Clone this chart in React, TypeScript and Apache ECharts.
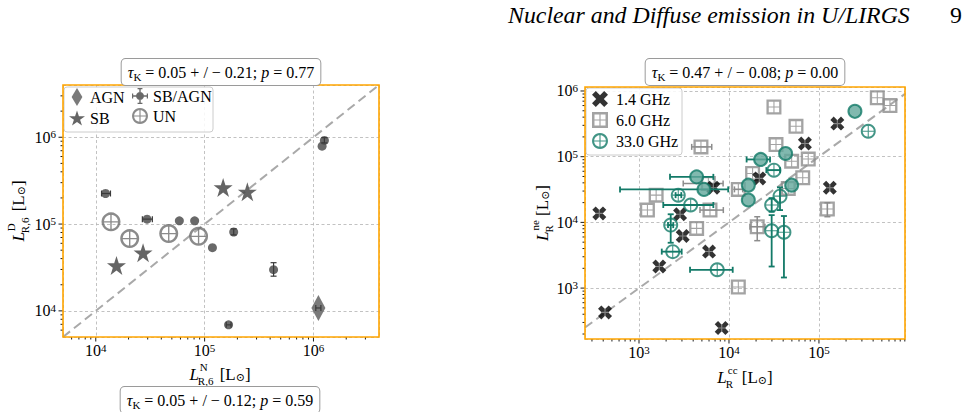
import React, { useEffect, useRef } from 'react';
import * as echarts from 'echarts';

const SERIF = "'Liberation Serif', 'DejaVu Serif', serif";
const FAMILY = 'Liberation Serif';

// ================= Left panel: L^N_R,6 (x) vs L^D_R,6 (y) =================
const leftLimits = [5000, 4e6];

const agnX = [1.11e6];
const agnY = [1.08e4];
const agnXBounds: (number[] | null)[] = [[1.05e6, 1.17e6]];
const agnYBounds: (number[] | null)[] = [null];

const sbX = [1.55e4, 2.72e4, 1.48e5, 2.47e5];
const sbY = [3.34e4, 4.68e4, 2.64e5, 2.35e5];

const sbAgnX = [1.23e4, 2.96e4, 5.86e4, 8.1e4, 1.18e5, 1.85e5, 1.66e5, 4.3e5, 1.2e6, 1.26e6];
const sbAgnY = [2.25e5, 1.14e5, 1.09e5, 1.09e5, 5.35e4, 8.1e4, 6.9e3, 2.98e4, 7.9e5, 9.2e5];
const sbAgnXBounds: (number[] | null)[] = [[1.13e4, 1.365e4], [2.68e4, 3.31e4], null, null, null, null, [1.58e5, 1.75e5], null, null, null];
const sbAgnYBounds: (number[] | null)[] = [null, null, null, null, null, [7.5e4, 8.8e4], null, [2.51e4, 3.59e4], null, [8.6e5, 9.9e5]];

const unX = [1.38e4, 2.05e4, 4.68e4, 8.8e4];
const unY = [1.06e5, 6.8e4, 7.77e4, 7.22e4];

// ================= Right panel: L^cc_R (x) vs L^ne_R (y) =================
const rightXLimits = [251, 9.04e5];
const rightYLimits = [168, 1.15e6];

const ghz14X = [362, 419, 1.68e3, 2.86e3, 3.06e3, 6.0e3, 6.7e3, 8.3e3, 2.17e4, 6.98e4, 1.32e5, 1.6e5];
const ghz14Y = [1.37e4, 427, 2.13e3, 1.33e4, 6.2e3, 3.6e3, 3.37e4, 247, 4.67e4, 1.59e5, 3.37e4, 3.19e5];

const ghz6X = [1.24e3, 1.55e3, 4.37e3, 4.88e3, 5.9e3, 6.15e3, 1.27e4, 1.27e4, 1.83e4, 2.06e4, 3.16e4, 3.33e4, 4.56e4, 4.97e4, 5.55e4, 6.6e4, 7.6e4, 1.24e5, 4.45e5, 6.15e5];
const ghz6Y = [1.54e4, 2.6e4, 8.1e3, 1.41e5, 3.92e4, 1.54e4, 1.04e3, 3.18e4, 5.56e4, 8.6e3, 5.7e5, 1.53e5, 3.29e4, 8.55e4, 2.9e5, 4.78e4, 9.2e4, 1.6e4, 7.9e5, 6.0e5];
const ghz6XBounds: (number[] | null)[] = [null, null, null, [3.85e3, 6.43e3], [3.1e3, 8.6e3], [4.76e3, 8.65e3], null, [1.15e4, 1.42e4], null, [1.71e4, 2.51e4], null, null, null, null, null, null, null, null, null, null];
const ghz6YBounds: (number[] | null)[] = [null, null, null, null, null, null, null, null, null, [5.27e3, 1.22e4], null, null, null, null, null, null, null, [1.22e4, 1.99e4], null, null];

const ghz33X = [2.25e3, 2.37e3, 2.73e3, 3.75e3, 4.37e3, 5.27e3, 7.4e3, 1.64e4, 1.64e4, 2.25e4, 2.98e4, 2.98e4, 3.16e4, 3.69e4, 4.08e4, 4.26e4, 4.97e4, 2.51e5, 3.53e5];
const ghz33Y = [9.1e3, 3.59e3, 2.6e4, 1.84e4, 4.93e4, 3.18e4, 1.9e3, 3.69e4, 2.19e4, 9.08e4, 1.84e4, 7.48e3, 6.24e4, 2.51e4, 7.1e3, 1.12e5, 3.69e4, 4.9e5, 2.44e5];
const ghz33Filled = [0, 0, 0, 0, 1, 1, 0, 1, 1, 1, 0, 0, 0, 0, 0, 1, 1, 1, 0];
const ghz33XBounds: (number[] | null)[] = [[2.1e3, 2.4e3], [1.79e3, 2.98e3], [2.55e3, 2.95e3], [1.86e3, 6.7e3], [2.21e3, 6.7e3], [615, 9.8e3], [3.69e3, 1.1e4], null, null, [1.57e4, 2.86e4], null, null, [2.6e4, 3.7e4], null, null, null, null, null, null];
const ghz33YBounds: (number[] | null)[] = [[4.9e3, 1.33e4], null, null, null, null, null, null, null, null, null, [1.45e4, 2.34e4], [2.13e3, 1.29e4], null, [1.54e4, 3.41e4], [1.45e3, 1.25e4], null, null, null, null];

// ================= Texts =================
const leftStat = ['0.05', '0.21', '0.77'];
const rightStat = ['0.47', '0.08', '0.00'];
const bottomStat = ['0.05', '0.12', '0.59'];
const headerText = 'Nuclear and Diffuse emission in U/LIRGS';
const pageNumber = '9';

// ================= Symbols =================
const P_STAR = 'path://M50,2 L61.8,37.6 L99,37.6 L68.9,59.5 L80.4,95 L50,73 L19.6,95 L31.1,59.5 L1,37.6 L38.2,37.6 Z';
const P_X = 'path://M8,28 L28,8 L50,30 L72,8 L92,28 L70,50 L92,72 L72,92 L50,70 L28,92 L8,72 L30,50 Z';
const P_PLUS = 'path://M0,42 L100,42 L100,58 L0,58 Z M42,0 L58,0 L58,100 L42,100 Z';
const P_DIAMOND = 'path://M50,0 L80,50 L50,100 L20,50 Z';
const P_DOT = 'path://M50,27 A23,23 0 1,1 49.99,27 Z M4,46 L96,46 L96,54 L4,54 Z M46,4 L54,4 L54,96 L46,96 Z M4,36 L11,36 L11,64 L4,64 Z M89,36 L96,36 L96,64 L89,64 Z M36,4 L64,4 L64,11 L36,11 Z M36,89 L64,89 L64,96 L36,96 Z';
const P_RING = 'path://M50,8 A42,42 0 1,1 49.99,8 Z M50,19 A31,31 0 1,0 50.01,19 Z M19,47 L81,47 L81,53 L19,53 Z M47,19 L53,19 L53,81 L47,81 Z';
const P_SQUARE = 'path://M8,8 L92,8 L92,92 L8,92 Z M21,21 L21,79 L79,79 L79,21 Z M21,47 L79,47 L79,53 L21,53 Z M47,21 L53,21 L53,79 L47,79 Z';

const TEAL = '#137a68';
const TEAL_FILL = '#62a89b';

const measureCtx = typeof document !== 'undefined' ? document.createElement('canvas').getContext('2d') : null;
function tw(text: string, font: string) {
  if (!measureCtx) return text.length * 8;
  measureCtx.font = font;
  return measureCtx.measureText(text).width;
}

const zip = (xs: number[], ys: number[]) => xs.map((x, i) => [x, ys[i]]);

function decadesIn(lo: number, hi: number) {
  const out: number[] = [];
  for (let e = Math.ceil(Math.log10(lo) - 1e-9); e <= Math.floor(Math.log10(hi) + 1e-9); e++) out.push(Math.pow(10, e));
  return out;
}
function minorsIn(lo: number, hi: number) {
  const out: number[] = [];
  for (let e = Math.floor(Math.log10(lo)); e <= Math.floor(Math.log10(hi)); e++)
    for (let m = 2; m <= 9; m++) {
      const v = m * Math.pow(10, e);
      if (v > lo * 1.0001 && v < hi * 0.9999) out.push(v);
    }
  return out;
}

function tickSeries(idx: number, dir: 'x' | 'y', values: number[], at: number, len: number) {
  return {
    type: 'custom',
    xAxisIndex: idx,
    yAxisIndex: idx,
    silent: true,
    clip: false,
    z: 5,
    data: values.map((v) => (dir === 'x' ? [v, at] : [at, v])),
    renderItem: (_p: any, api: any) => {
      const p = api.coord([api.value(0), api.value(1)]);
      const shape = dir === 'x'
        ? { x1: p[0], y1: p[1], x2: p[0], y2: p[1] + len }
        : { x1: p[0], y1: p[1], x2: p[0] - len, y2: p[1] };
      return { type: 'line', shape, style: { stroke: '#000', lineWidth: 0.9 } };
    },
  };
}

function errorSeries(idx: number, xs: number[], ys: number[], xb: (number[] | null)[], yb: (number[] | null)[], color: string, lw: number, z: number, cap = 3) {
  const data = xs.map((x, i) => [
    x, ys[i],
    xb[i] ? xb[i]![0] : x, xb[i] ? xb[i]![1] : x,
    yb[i] ? yb[i]![0] : ys[i], yb[i] ? yb[i]![1] : ys[i],
  ]);
  return {
    type: 'custom',
    xAxisIndex: idx,
    yAxisIndex: idx,
    silent: true,
    clip: false,
    z,
    data,
    encode: { x: 0, y: 1 },
    renderItem: (_p: any, api: any) => {
      const x = api.value(0), y = api.value(1);
      const xl = api.value(2), xh = api.value(3), yl = api.value(4), yh = api.value(5);
      const st = { stroke: color, lineWidth: lw };
      const ch: any[] = [];
      if (xl !== xh) {
        const a = api.coord([xl, y]), b = api.coord([xh, y]);
        ch.push({ type: 'line', shape: { x1: a[0], y1: a[1], x2: b[0], y2: b[1] }, style: st });
        ch.push({ type: 'line', shape: { x1: a[0], y1: a[1] - cap, x2: a[0], y2: a[1] + cap }, style: st });
        ch.push({ type: 'line', shape: { x1: b[0], y1: b[1] - cap, x2: b[0], y2: b[1] + cap }, style: st });
      }
      if (yl !== yh) {
        const a = api.coord([x, yl]), b = api.coord([x, yh]);
        ch.push({ type: 'line', shape: { x1: a[0], y1: a[1], x2: b[0], y2: b[1] }, style: st });
        ch.push({ type: 'line', shape: { x1: a[0] - cap, y1: a[1], x2: a[0] + cap, y2: a[1] }, style: st });
        ch.push({ type: 'line', shape: { x1: b[0] - cap, y1: b[1], x2: b[0] + cap, y2: b[1] }, style: st });
      }
      return { type: 'group', children: ch };
    },
  };
}

const decadeLabel = (v: number) => {
  const e = Math.log10(v);
  const r = Math.round(e);
  return Math.abs(e - r) < 1e-6 ? `{b|10}{s|${r}}` : '';
};
const labelRich = {
  b: { fontFamily: FAMILY, fontSize: 16, color: '#000' },
  s: { fontFamily: FAMILY, fontSize: 11, color: '#000', padding: [0, 0, 6, 0] },
};

function logAxis(idx: number, lim: number[], isX: boolean) {
  return {
    type: 'log',
    logBase: 10,
    gridIndex: idx,
    min: lim[0],
    max: lim[1],
    axisLine: { show: false },
    axisTick: { show: false },
    minorTick: { show: false },
    splitLine: { show: true, lineStyle: { color: '#b3b3b3', width: 0.8, type: [3, 2.5] } },
    axisLabel: { formatter: decadeLabel, rich: labelRich, margin: isX ? 5 : 7, color: '#000', fontFamily: FAMILY },
  };
}

function mathTitle(cx: number, cy: number, rot: number, sup: string, sub: string) {
  const fs = 17;
  const fMain = `italic ${fs}px ${SERIF}`;
  const fSmall = `11px ${SERIF}`;
  const fRest = `${fs}px ${SERIF}`;
  const wL = tw('L', fMain);
  const wS = Math.max(tw(sup, fSmall), tw(sub, fSmall));
  const r1 = ' [L';
  const w1 = tw(r1, fRest);
  const wO = tw('⊙', fSmall);
  const wB = tw(']', fRest);
  const W = wL + 1 + wS + w1 + wO + wB;
  const x0 = -W / 2;
  const t = (x: number, y: number, text: string, font: string) => ({
    type: 'text', x, y, style: { text, font, fill: '#000', verticalAlign: 'middle', align: 'left' },
  });
  return {
    type: 'group',
    x: cx,
    y: cy,
    rotation: rot,
    children: [
      t(x0, 0, 'L', fMain),
      t(x0 + wL + 1, -7.5, sup, fSmall),
      t(x0 + wL - 1, 6.5, sub, fSmall),
      t(x0 + wL + 1 + wS, 0, r1, fRest),
      t(x0 + wL + 1 + wS + w1, 3, '⊙', fSmall),
      t(x0 + wL + 1 + wS + w1 + wO, 0, ']', fRest),
    ],
  };
}

function statBox(cx: number, cy: number, s: string[]) {
  return {
    type: 'text',
    x: cx,
    y: cy,
    z: 20,
    style: {
      text: `{i|τ}{k|K}{n| = ${s[0]} + / − ${s[1]}; }{i|p}{n| = ${s[2]}}`,
      rich: {
        i: { fontFamily: FAMILY, fontStyle: 'italic', fontSize: 16, fill: '#000' },
        k: { fontFamily: FAMILY, fontSize: 11, fill: '#000', padding: [8, 0, 0, 0] },
        n: { fontFamily: FAMILY, fontSize: 16, fill: '#000' },
      },
      align: 'center',
      verticalAlign: 'middle',
      backgroundColor: '#fff',
      borderColor: '#9a9a9a',
      borderWidth: 1,
      borderRadius: 4,
      padding: [4, 6, 3, 6],
    },
  };
}

function buildOption() {
  const legendText = { fontFamily: FAMILY, fontSize: 16, color: '#000' };
  const hFont = (size: number) => `italic ${size}px ${SERIF}`;
  const headerSize = 22 * 402 / tw(headerText, hFont(22));

  const ghz33Data = ghz33X.map((x, i) => (ghz33Filled[i]
    ? { value: [x, ghz33Y[i]], symbol: 'circle', symbolSize: 13, itemStyle: { color: TEAL_FILL, borderColor: TEAL, borderWidth: 2 } }
    : { value: [x, ghz33Y[i]], symbol: P_RING, symbolSize: 15, itemStyle: { color: TEAL, borderWidth: 0 } }));

  return {
    animation: false,
    backgroundColor: '#ffffff',
    textStyle: { fontFamily: FAMILY },
    grid: [
      { left: 63, top: 85, width: 316, height: 252, show: false, outerBoundsMode: 'none' },
      { left: 585, top: 87, width: 320, height: 252, show: false, outerBoundsMode: 'none' },
    ],
    xAxis: [logAxis(0, leftLimits, true), logAxis(1, rightXLimits, true)],
    yAxis: [logAxis(0, leftLimits, false), logAxis(1, rightYLimits, false)],
    legend: [
      {
        data: [{ name: 'AGN', icon: P_DIAMOND }, { name: 'SB', icon: P_STAR }],
        orient: 'vertical', left: 69, top: 88, itemWidth: 16, itemHeight: 18, itemGap: 4,
        textStyle: legendText, selectedMode: false, padding: 0,
      },
      {
        data: [{ name: 'SB/AGN', icon: P_DOT }, { name: 'UN', icon: P_RING }],
        orient: 'vertical', left: 132, top: 88, itemWidth: 16, itemHeight: 18, itemGap: 4,
        textStyle: legendText, selectedMode: false, padding: 0,
      },
      {
        data: [
          { name: '1.4 GHz', icon: P_X },
          { name: '6.0 GHz', icon: P_SQUARE },
          { name: '33.0 GHz', icon: P_RING, itemStyle: { color: TEAL, borderWidth: 0 } },
        ],
        orient: 'vertical', left: 592, top: 91, itemWidth: 16, itemHeight: 16, itemGap: 5,
        textStyle: { ...legendText, padding: [0, 0, 0, 3] }, selectedMode: false, padding: 0,
      },
    ],
    graphic: [
      { type: 'rect', shape: { x: 64, y: 87, width: 149, height: 45, r: 3 }, style: { fill: 'rgba(255,255,255,0.85)', stroke: '#cccccc', lineWidth: 1 }, z: 3 },
      { type: 'rect', shape: { x: 586, y: 88, width: 96, height: 67, r: 3 }, style: { fill: 'rgba(255,255,255,0.85)', stroke: '#cccccc', lineWidth: 1 }, z: 3 },
      { type: 'rect', shape: { x: 63, y: 85, width: 316, height: 252 }, style: { fill: 'none', stroke: '#FFA500', lineWidth: 1.6 }, z: 10 },
      { type: 'rect', shape: { x: 585, y: 87, width: 320, height: 252 }, style: { fill: 'none', stroke: '#FFA500', lineWidth: 1.6 }, z: 10 },
      statBox(221, 72, leftStat),
      statBox(745, 72, rightStat),
      statBox(220, 400, bottomStat),
      mathTitle(220, 374, 0, 'N', 'R,6'),
      mathTitle(18, 211, Math.PI / 2, 'D', 'R,6'),
      mathTitle(745, 377, 0, 'cc', 'R'),
      mathTitle(542, 213, Math.PI / 2, 'ne', 'R'),
      { type: 'text', x: 508, y: 15, style: { text: headerText, font: hFont(headerSize), fill: '#000', verticalAlign: 'middle', align: 'left' } },
      { type: 'text', x: 962, y: 15, style: { text: pageNumber, font: `${headerSize}px ${SERIF}`, fill: '#000', verticalAlign: 'middle', align: 'right' } },
    ],
    series: [
      // 1:1 lines
      {
        type: 'line', xAxisIndex: 0, yAxisIndex: 0, z: 1, silent: true, symbol: 'none',
        data: [[leftLimits[0], leftLimits[0]], [leftLimits[1], leftLimits[1]]],
        lineStyle: { color: '#a9a9a9', width: 2, type: [9, 5] },
      },
      {
        type: 'line', xAxisIndex: 1, yAxisIndex: 1, z: 1, silent: true, symbol: 'none',
        data: [[rightXLimits[0], rightXLimits[0]], [rightXLimits[1], rightXLimits[1]]],
        lineStyle: { color: '#a9a9a9', width: 2, type: [9, 5] },
      },
      // left panel markers
      {
        name: 'SB/AGN', type: 'scatter', xAxisIndex: 0, yAxisIndex: 0, z: 2, symbol: 'circle', symbolSize: 9,
        data: zip(sbAgnX, sbAgnY), itemStyle: { color: '#4f4f4f', opacity: 0.85 },
      },
      {
        name: 'SB', type: 'scatter', xAxisIndex: 0, yAxisIndex: 0, z: 2, symbol: P_STAR, symbolSize: 19,
        data: zip(sbX, sbY), itemStyle: { color: '#4a4a4a', opacity: 0.85 },
      },
      {
        name: 'UN', type: 'scatter', xAxisIndex: 0, yAxisIndex: 0, z: 2, symbol: P_RING, symbolSize: 19,
        data: zip(unX, unY), itemStyle: { color: '#6e6e6e' },
      },
      {
        name: 'AGN', type: 'scatter', xAxisIndex: 0, yAxisIndex: 0, z: 2, symbol: 'diamond', symbolSize: [14, 26],
        data: zip(agnX, agnY), itemStyle: { color: '#6b6b6b', opacity: 0.9 },
      },
      errorSeries(0, sbAgnX, sbAgnY, sbAgnXBounds, sbAgnYBounds, '#3a3a3a', 1.2, 3),
      errorSeries(0, agnX, agnY, agnXBounds, agnYBounds, '#3a3a3a', 1.2, 3),
      // right panel markers
      {
        name: '6.0 GHz', type: 'scatter', xAxisIndex: 1, yAxisIndex: 1, z: 2, symbol: P_SQUARE, symbolSize: 15,
        data: zip(ghz6X, ghz6Y), itemStyle: { color: '#8c8c8c' },
      },
      errorSeries(1, ghz6X, ghz6Y, ghz6XBounds, ghz6YBounds, '#8c8c8c', 1.5, 2),
      {
        name: '1.4 GHz', type: 'scatter', xAxisIndex: 1, yAxisIndex: 1, z: 3, symbol: P_X, symbolSize: 14,
        data: zip(ghz14X, ghz14Y), itemStyle: { color: '#000000' },
      },
      {
        type: 'scatter', xAxisIndex: 1, yAxisIndex: 1, z: 3, silent: true, symbol: P_PLUS, symbolSize: 7,
        data: zip(ghz14X, ghz14Y), itemStyle: { color: '#9a9a9a' },
      },
      {
        name: '33.0 GHz', type: 'scatter', xAxisIndex: 1, yAxisIndex: 1, z: 4, symbol: 'circle', symbolSize: 13,
        data: ghz33Data, itemStyle: { color: '#ffffff', borderColor: TEAL, borderWidth: 2 },
      },
      errorSeries(1, ghz33X, ghz33Y, ghz33XBounds, ghz33YBounds, TEAL, 1.8, 4),
      // ticks
      tickSeries(0, 'x', decadesIn(leftLimits[0], leftLimits[1]), leftLimits[0], 4.5),
      tickSeries(0, 'x', minorsIn(leftLimits[0], leftLimits[1]), leftLimits[0], 2.5),
      tickSeries(0, 'y', decadesIn(leftLimits[0], leftLimits[1]), leftLimits[0], 4.5),
      tickSeries(0, 'y', minorsIn(leftLimits[0], leftLimits[1]), leftLimits[0], 2.5),
      tickSeries(1, 'x', decadesIn(rightXLimits[0], rightXLimits[1]), rightYLimits[0], 4.5),
      tickSeries(1, 'x', minorsIn(rightXLimits[0], rightXLimits[1]), rightYLimits[0], 2.5),
      tickSeries(1, 'y', decadesIn(rightYLimits[0], rightYLimits[1]), rightXLimits[0], 4.5),
      tickSeries(1, 'y', minorsIn(rightYLimits[0], rightYLimits[1]), rightXLimits[0], 2.5),
    ],
  };
}

export default function App() {
  const ref = useRef<HTMLDivElement>(null);
  useEffect(() => {
    document.body.style.margin = '0';
    const chart = echarts.init(ref.current!, null, { renderer: 'svg' });
    chart.setOption(buildOption() as any);
    return () => chart.dispose();
  }, []);
  return <div ref={ref} style={{ width: 967, height: 412 }} />;
}
